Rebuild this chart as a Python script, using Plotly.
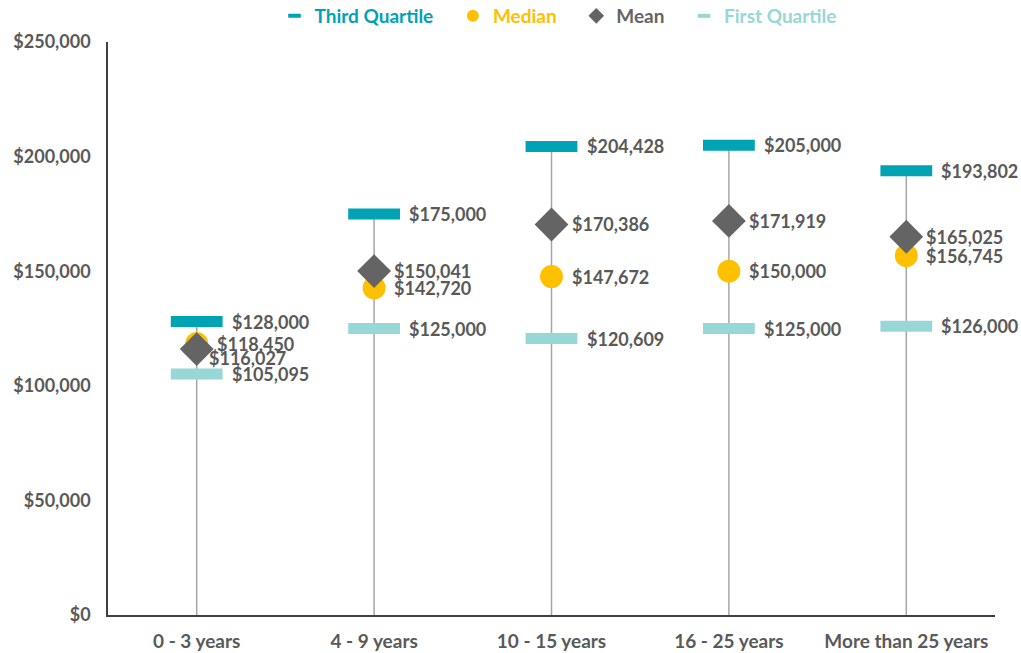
import plotly.graph_objects as go

categories = ["0 - 3 years", "4 - 9 years", "10 - 15 years", "16 - 25 years", "More than 25 years"]
third_quartile = [128000, 175000, 204428, 205000, 193802]
median = [118450, 142720, 147672, 150000, 156745]
mean = [116027, 150041, 170386, 171919, 165025]
first_quartile = [105095, 125000, 120609, 125000, 126000]

C_Q3 = "#00A3B4"
C_Q1 = "#97D7D6"
C_MED = "#FFC000"
C_MEAN = "#646464"
C_TXT = "#595959"
FONT = "Lato"

fig = go.Figure()

# whisker lines from 0 to third quartile
wx, wy = [], []
for c, q3 in zip(categories, third_quartile):
    wx += [c, c, None]
    wy += [0, q3, None]
fig.add_trace(go.Scatter(x=wx, y=wy, mode="lines", line=dict(color="#A6A6A6", width=1.5),
                         showlegend=False, hoverinfo="skip"))

fig.add_trace(go.Scatter(x=categories, y=first_quartile, mode="markers", showlegend=False,
                         marker=dict(symbol="line-ew", size=37, line=dict(color=C_Q1, width=11))))
fig.add_trace(go.Scatter(x=categories, y=third_quartile, mode="markers", showlegend=False,
                         marker=dict(symbol="line-ew", size=37, line=dict(color=C_Q3, width=11))))
fig.add_trace(go.Scatter(x=categories, y=median, mode="markers", showlegend=False,
                         marker=dict(symbol="circle", size=23, color=C_MED)))
fig.add_trace(go.Scatter(x=categories, y=mean, mode="markers", showlegend=False,
                         marker=dict(symbol="diamond", size=26, color=C_MEAN)))

# legend entries
PAD = "&nbsp;" * 3
legend_items = [("Third Quartile", "line-ew", C_Q3, 1), ("Median", "circle", C_MED, 2),
                ("Mean", "diamond", C_MEAN, 3), ("First Quartile", "line-ew", C_Q1, 4)]
for name, sym, col, rank in legend_items:
    if sym == "line-ew":
        mk = dict(symbol=sym, size=9, line=dict(color=col, width=4))
    else:
        mk = dict(symbol=sym, size=12, color=col)
    label = f"<span style='color:{col}'><b>{name}</b></span>" + (PAD if rank < 4 else "")
    fig.add_trace(go.Scatter(x=[None], y=[None], mode="markers", marker=mk, legendrank=rank,
                             name=label))

def fmt(v):
    return f"${v:,.0f}"

# data labels
ann = []
for i, c in enumerate(categories):
    for vals in (third_quartile, first_quartile):
        ann.append(dict(x=c, y=vals[i], text=f"<b>{fmt(vals[i])}</b>", xanchor="left", yanchor="middle",
                        xshift=33, showarrow=False))
    mean_shift = (10, -9) if i == 0 else (18, 0)
    ann.append(dict(x=c, y=median[i], text=f"<b>{fmt(median[i])}</b>", xanchor="left", yanchor="middle",
                    xshift=18, showarrow=False))
    ann.append(dict(x=c, y=mean[i], text=f"<b>{fmt(mean[i])}</b>", xanchor="left", yanchor="middle",
                    xshift=mean_shift[0], yshift=mean_shift[1], showarrow=False))

W, H = 1021, 653
fig.update_layout(
    width=W, height=H,
    margin=dict(l=108, r=26, t=42, b=38, autoexpand=False),
    plot_bgcolor="white", paper_bgcolor="white",
    font=dict(family=FONT, size=18, color=C_TXT),
    annotations=ann,
    showlegend=True,
    legend=dict(orientation="h", x=558 / W, xanchor="center", xref="container",
                y=1 - 16 / H, yanchor="middle", yref="container",
                font=dict(family=FONT, size=19), itemwidth=30, traceorder="normal"),
    xaxis=dict(type="category", showline=True, linecolor="#404040", linewidth=1.5,
               showgrid=False, ticks="", automargin=False, ticklabelstandoff=8,
               tickfont=dict(family=FONT, size=19, color=C_TXT),
               tickprefix="<b>", ticksuffix="</b>", range=[-0.5, 4.5]),
    yaxis=dict(range=[0, 250000], dtick=50000, tickformat="$,.0f", showline=True,
               linecolor="#404040", linewidth=1.5, showgrid=False, zeroline=False,
               ticks="", ticklabelstandoff=12, automargin=False,
               tickprefix="<b>", ticksuffix="</b>",
               tickfont=dict(family=FONT, size=18, color=C_TXT)),
)

fig.write_html("out.html", config={"displayModeBar": False},
               post_script="document.body.style.margin='0';document.body.style.overflow='hidden';")
